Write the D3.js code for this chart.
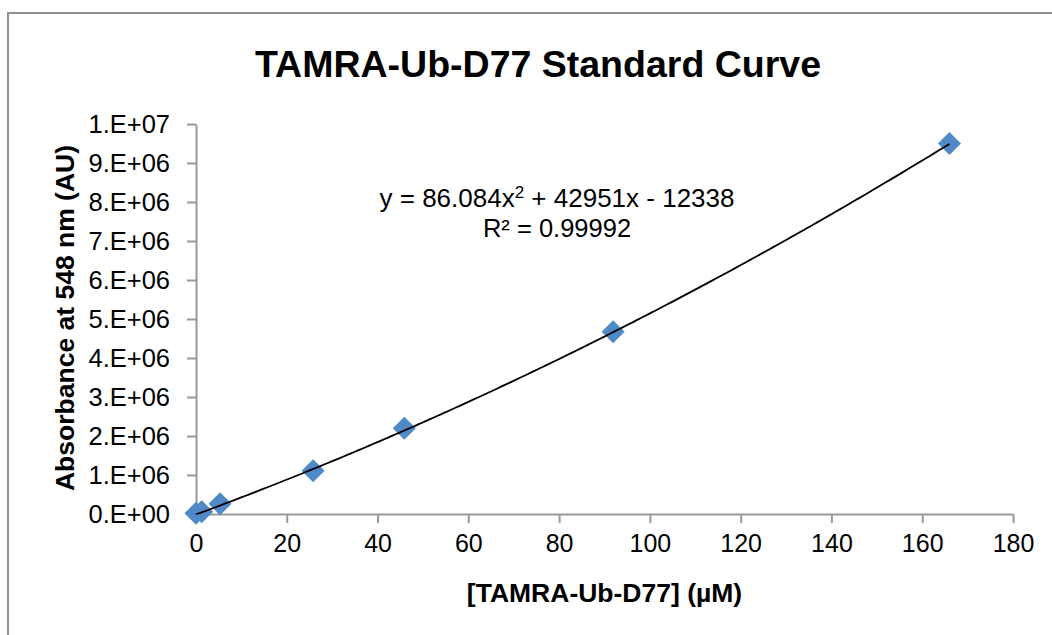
<!DOCTYPE html>
<html>
<head>
<meta charset="utf-8">
<script src="https://cdn.jsdelivr.net/npm/d3@7"></script>
<style>
  html, body { margin: 0; padding: 0; background: #fff; }
  svg { display: block; font-family: "Liberation Sans", Arial, sans-serif; }
</style>
</head>
<body>
<svg id="chart" width="1052" height="635"></svg>
<script>
// Standard curve measurements
const concentrations = [0, 1.25, 5.3, 25.8, 45.9, 91.9, 166];          // µM
const absorbance = [20000, 60000, 260000, 1110000, 2200000, 4670000, 9500000]; // AU

// Axis ticks
const xTicks = [0, 20, 40, 60, 80, 100, 120, 140, 160, 180];
const yTicks = [0, 1e6, 2e6, 3e6, 4e6, 5e6, 6e6, 7e6, 8e6, 9e6, 1e7];
const yTickLabels = ["0.E+00", "1.E+06", "2.E+06", "3.E+06", "4.E+06", "5.E+06",
                     "6.E+06", "7.E+06", "8.E+06", "9.E+06", "1.E+07"];

// Polynomial (order 2) trendline coefficients and fit quality
const fitCoeffs = [86.084, 42951, -12338];
const rSquared = "0.99992";

const title = "TAMRA-Ub-D77 Standard Curve";
const xTitle = "[TAMRA-Ub-D77] (\u00B5M)";
const yTitle = "Absorbance at 548 nm (AU)";

const svg = d3.select("#chart");
const W = 1052, H = 635;
const axisColor = "#999999";
const markerColor = "#5089c8";

const plot = { left: 196, right: 1013, top: 124, bottom: 514 };

const x = d3.scaleLinear().domain([0, 180]).range([plot.left, plot.right]);
const y = d3.scaleLinear().domain([0, 1e7]).range([plot.bottom, plot.top]);

// Chart border (continues past the right and bottom edges)
svg.append("rect")
  .attr("x", 8).attr("y", 13)
  .attr("width", W + 20).attr("height", H + 20)
  .attr("fill", "none")
  .attr("stroke", "#8f8f8f")
  .attr("stroke-width", 2);

// Title
svg.append("text")
  .attr("x", 538).attr("y", 77)
  .attr("text-anchor", "middle")
  .attr("font-size", 37.5)
  .attr("font-weight", "bold")
  .attr("fill", "#000")
  .text(title);

// X axis
const xAxis = d3.axisBottom(x)
  .tickValues(xTicks)
  .tickSize(9)
  .tickSizeOuter(0)
  .tickPadding(11)
  .tickFormat(d3.format("d"));
const gx = svg.append("g")
  .attr("transform", `translate(0,${plot.bottom})`)
  .call(xAxis);
gx.select(".domain").attr("stroke", axisColor).attr("stroke-width", 2);
gx.selectAll(".tick line").attr("stroke", axisColor).attr("stroke-width", 2);
gx.selectAll(".tick text")
  .attr("font-size", 25)
  .attr("font-family", "Liberation Sans, Arial, sans-serif")
  .attr("fill", "#000");

// Y axis
const yAxis = d3.axisLeft(y)
  .tickValues(yTicks)
  .tickSize(9)
  .tickSizeOuter(0)
  .tickPadding(17)
  .tickFormat((d, i) => yTickLabels[i]);
const gy = svg.append("g")
  .attr("transform", `translate(${plot.left},0)`)
  .call(yAxis);
gy.select(".domain").attr("stroke", axisColor).attr("stroke-width", 2);
gy.selectAll(".tick line").attr("stroke", axisColor).attr("stroke-width", 2);
gy.selectAll(".tick text")
  .attr("font-size", 25.5)
  .attr("font-family", "Liberation Sans, Arial, sans-serif")
  .attr("fill", "#000");

// Axis titles
svg.append("text")
  .attr("x", (plot.left + plot.right) / 2).attr("y", 602)
  .attr("text-anchor", "middle")
  .attr("font-size", 26.5)
  .attr("font-weight", "bold")
  .text(xTitle);

svg.append("text")
  .attr("transform", `translate(74,${(plot.top + plot.bottom) / 2 - 1}) rotate(-90)`)
  .attr("text-anchor", "middle")
  .attr("font-size", 26.5)
  .attr("font-weight", "bold")
  .text(yTitle);

// Data markers (diamonds)
const diamond = "M0,-11.5L11.5,0L0,11.5L-11.5,0Z";
svg.append("g")
  .selectAll("path")
  .data(concentrations.map((c, i) => [c, absorbance[i]]))
  .join("path")
  .attr("d", diamond)
  .attr("transform", d => `translate(${x(d[0])},${y(d[1])})`)
  .attr("fill", markerColor);

// Trendline over the measured range
const fit = c => fitCoeffs[0] * c * c + fitCoeffs[1] * c + fitCoeffs[2];
const xMax = d3.max(concentrations);
const curve = d3.range(0, 201).map(i => xMax * i / 200);
svg.append("path")
  .datum(curve)
  .attr("fill", "none")
  .attr("stroke", "#000")
  .attr("stroke-width", 1.8)
  .attr("d", d3.line().x(c => x(c)).y(c => Math.min(y(fit(c)), plot.bottom)));

// Trendline equation and R²
const eq = svg.append("text")
  .attr("x", 557).attr("y", 207)
  .attr("text-anchor", "middle")
  .attr("font-size", 26)
  .attr("fill", "#000");
eq.append("tspan").text(`y = ${fitCoeffs[0]}x`);
eq.append("tspan").attr("font-size", 17).attr("dy", -9).text("2");
eq.append("tspan").attr("dy", 9)
  .text(` + ${fitCoeffs[1]}x - ${Math.abs(fitCoeffs[2])}`);

svg.append("text")
  .attr("x", 557).attr("y", 237)
  .attr("text-anchor", "middle")
  .attr("font-size", 25.5)
  .attr("fill", "#000")
  .text(`R\u00B2 = ${rSquared}`);
</script>
</body>
</html>
